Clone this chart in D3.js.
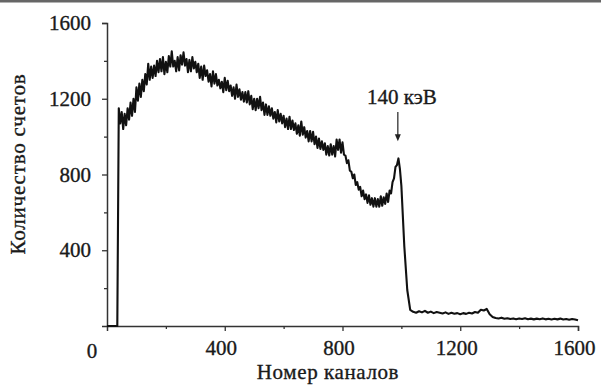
<!DOCTYPE html>
<html><head><meta charset="utf-8">
<script src="https://cdn.jsdelivr.net/npm/d3@7/dist/d3.min.js"></script>
<style>body{margin:0;background:#fff}svg{display:block}</style>
</head><body>
<script>
const channels = d3.range(0, 1000, 5).concat(d3.range(1000, 1601, 10));
const counts = [
0,0,0,0,0,0,0,0,
1150,1070,1130,1040,1120,1060,1150,1090,1180,1110,
1200,1130,1260,1190,1280,1210,1300,1240,1330,1275,
1385,1300,1370,1310,1375,1320,1400,1340,1410,1345,
1420,1330,1395,1340,1425,1370,1450,1370,1400,1345,
1420,1350,1430,1380,1445,1375,1410,1340,1405,1345,
1420,1360,1395,1340,1385,1310,1370,1300,1375,1320,
1350,1290,1330,1265,1345,1280,1330,1270,1300,1255,
1290,1235,1310,1245,1295,1240,1270,1215,1260,1200,
1275,1210,1250,1195,1235,1185,1235,1180,1240,1170,
1215,1145,1200,1140,1200,1150,1210,1140,1180,1115,
1170,1115,1160,1110,1150,1095,1130,1075,1140,1080,
1120,1070,1110,1050,1095,1040,1105,1040,1085,1035,
1070,1015,1060,1005,1080,1010,1050,995,1030,975,
1030,975,1025,960,1000,940,990,935,975,930,
965,905,950,900,960,905,950,895,985,930,
985,915,970,905,900,860,875,820,815,780,
800,745,760,720,735,685,715,670,695,650,
690,640,675,630,675,630,670,630,685,635,
680,645,700,655,715,700,760,780,840,850,
885,830,
740,420,190,85,75,70,78,72,80,70,
76,68,74,70,66,72,64,70,65,68,
62,68,64,70,66,74,70,86,82,90,
62,48,42,40,44,38,41,37,40,36,
40,37,41,36,39,35,39,36,40,35,
38,34,38,35,39,34,37,33,37,34,
30];
const xMajor = [400, 800, 1200, 1600];
const xMinor = [200, 600, 1000, 1400];
const yMajor = [400, 800, 1200, 1600];
const yMinor = [200, 600, 1000, 1400];
const xTitle = "Номер каналов";
const yTitle = "Количество счетов";
const peakLabel = "140 кэВ";
const peakChannel = 988;
const peakTop = 1130, peakBottom = 975;

const W = 601, H = 386;
const svg = d3.select("body").append("svg").attr("width", W).attr("height", H);
svg.append("rect").attr("width", W).attr("height", H).attr("fill", "#fff");
svg.append("rect").attr("x", 0).attr("y", 0).attr("width", W).attr("height", 2.5).attr("fill", "#666");

const x = d3.scaleLinear().domain([0, 1600]).range([107, 578]);
const y = d3.scaleLinear().domain([0, 1600]).range([326, 23]);
const font = "'Liberation Serif', 'Times New Roman', serif";
const ink = "#1a1a1a";

function styleText(sel) {
  sel.attr("font-family", font).attr("font-size", 21).attr("fill", ink)
     .attr("stroke", ink).attr("stroke-width", 0.35);
}

// axes
const gx = svg.append("g").attr("transform", `translate(0,${y(0)})`);
gx.call(d3.axisBottom(x).tickValues(xMajor).tickSize(5).tickPadding(9).tickFormat(d3.format("d")));
const gxm = svg.append("g").attr("transform", `translate(0,${y(0)})`);
gxm.call(d3.axisBottom(x).tickValues(xMinor).tickSize(3).tickFormat(""));
const gy = svg.append("g").attr("transform", `translate(${x(0)},0)`);
gy.call(d3.axisLeft(y).tickValues(yMajor).tickSize(5).tickPadding(11).tickFormat(d3.format("d")));
const gym = svg.append("g").attr("transform", `translate(${x(0)},0)`);
gym.call(d3.axisLeft(y).tickValues(yMinor).tickSize(3).tickFormat(""));
[gx, gxm, gy, gym].forEach(g => {
  g.select(".domain").attr("stroke", "#333").attr("stroke-width", 1.5);
  g.selectAll(".tick line").attr("stroke", "#333").attr("stroke-width", 1.3);
  styleText(g.selectAll(".tick text"));
});
gx.selectAll(".tick text").attr("dx", -4);
gxm.select(".domain").remove();
gym.select(".domain").remove();

styleText(svg.append("text").attr("x", 92).attr("y", 358).attr("text-anchor", "middle").text("0"));

// titles
styleText(svg.append("text").attr("x", 328).attr("y", 379).attr("text-anchor", "middle")
  .attr("letter-spacing", 0.6).text(xTitle));
styleText(svg.append("text").attr("transform", "translate(25,164) rotate(-90)").attr("text-anchor", "middle")
  .attr("letter-spacing", 0.8).text(yTitle));

// spectrum
const data = channels.map((c, i) => [c, counts[i]]);
svg.append("path").datum(data)
  .attr("fill", "none").attr("stroke", "#111").attr("stroke-width", 2.1).attr("stroke-linejoin", "round")
  .attr("d", d3.line().x(d => x(d[0])).y(d => y(d[1])));

// annotation
const ax = x(peakChannel);
svg.append("line").attr("x1", ax).attr("x2", ax).attr("y1", y(peakTop)).attr("y2", y(peakBottom) - 5)
  .attr("stroke", "#222").attr("stroke-width", 1.2);
svg.append("path").attr("d", `M${ax-3},${y(peakBottom)-7} L${ax+3},${y(peakBottom)-7} L${ax},${y(peakBottom)} Z`).attr("fill", "#222");
styleText(svg.append("text").attr("x", ax + 4).attr("y", 104).attr("text-anchor", "middle").text(peakLabel));
</script>
</body></html>
